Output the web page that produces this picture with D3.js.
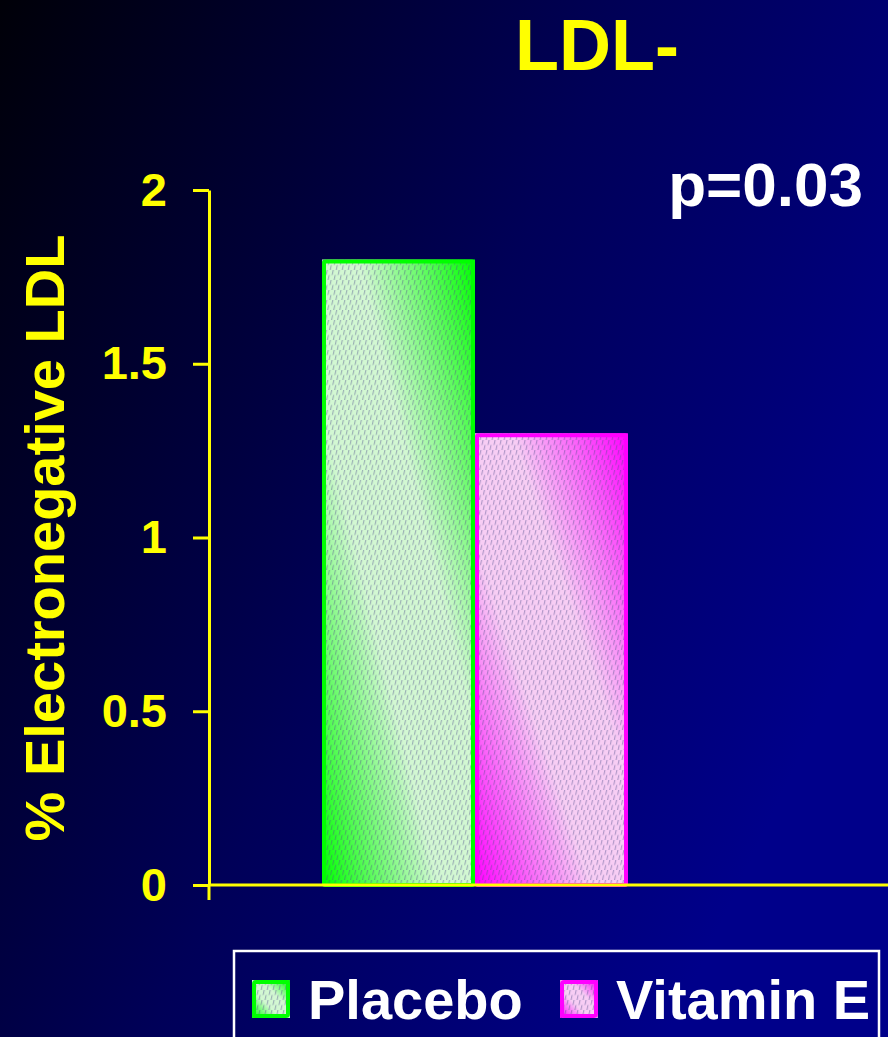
<!DOCTYPE html>
<html>
<head>
<meta charset="utf-8">
<script src="https://cdn.jsdelivr.net/npm/d3@7"></script>
<style>
  html, body { margin: 0; padding: 0; background: #000; }
  svg { display: block; }
  text { font-family: "Liberation Sans", Arial, sans-serif; font-weight: bold; }
</style>
</head>
<body>
<svg id="chart" width="888" height="1037"></svg>
<script>
// Chart data
const seriesNames = ["Placebo", "Vitamin E"];
const seriesValues = [1.8, 1.3];
const seriesColors = ["#00ff00", "#ff00ff"];
const seriesLight = ["#d2f7d2", "#f7cdf4"];
const tickValues = [0, 0.5, 1, 1.5, 2];
const tickLabels = ["0", "0.5", "1", "1.5", "2"];
const titleText = "LDL-";
const yAxisTitle = "% Electronegative LDL";
const pValueText = "p=0.03";

const W = 888, H = 1037;
const svg = d3.select("#chart");
const defs = svg.append("defs");

// Background: dark to navy blue sweep
const bg = defs.append("linearGradient").attr("id", "bg")
  .attr("x1", "0%").attr("y1", "0%").attr("x2", "100%").attr("y2", "55%");
bg.append("stop").attr("offset", "0%").attr("stop-color", "#000008");
bg.append("stop").attr("offset", "55%").attr("stop-color", "#000058");
bg.append("stop").attr("offset", "100%").attr("stop-color", "#00008a");
svg.append("rect").attr("width", W).attr("height", H).attr("fill", "url(#bg)");

// Diagonal shaded fill for each series: saturated corners, pale centre
seriesNames.forEach((name, i) => {
  const g = defs.append("linearGradient").attr("id", "fill" + i)
    .attr("x1", "1").attr("y1", "0").attr("x2", "0").attr("y2", "1");
  g.append("stop").attr("offset", "0%").attr("stop-color", seriesColors[i]);
  g.append("stop").attr("offset", "38%").attr("stop-color", seriesLight[i]);
  g.append("stop").attr("offset", "62%").attr("stop-color", seriesLight[i]);
  g.append("stop").attr("offset", "100%").attr("stop-color", seriesColors[i]);
});

// Staggered dash texture laid over the fills
const hatch = defs.append("pattern").attr("id", "hatch")
  .attr("patternUnits", "userSpaceOnUse")
  .attr("width", 6).attr("height", 10)
  .attr("patternTransform", "skewX(-12)");
hatch.append("rect").attr("x", 0).attr("y", 0).attr("width", 1.2).attr("height", 5)
  .attr("fill", "rgba(80,80,140,0.42)");
hatch.append("rect").attr("x", 3).attr("y", 5).attr("width", 1.2).attr("height", 5)
  .attr("fill", "rgba(80,80,140,0.42)");

// Scales
const y = d3.scaleLinear().domain([0, 2]).range([885, 190]);
const x = d3.scaleBand().domain(seriesNames).range([322, 628]).paddingInner(0);

// Bars
const bars = svg.append("g");
seriesNames.forEach((name, i) => {
  const bx = x(name), bw = x.bandwidth();
  const top = y(seriesValues[i]), h = y(0) - y(seriesValues[i]);
  bars.append("rect")
    .attr("x", bx).attr("y", top).attr("width", bw).attr("height", h)
    .attr("fill", `url(#fill${i})`);
  bars.append("rect")
    .attr("x", bx).attr("y", top).attr("width", bw).attr("height", h)
    .attr("fill", "url(#hatch)");
  bars.append("rect")
    .attr("x", bx + 2).attr("y", top + 2).attr("width", bw - 4).attr("height", h - 2)
    .attr("fill", "none").attr("stroke", seriesColors[i]).attr("stroke-width", 4)
    .attr("rx", 1);
});

// Y axis
const yAxis = d3.axisLeft(y)
  .tickValues(tickValues)
  .tickFormat((d, i) => tickLabels[i])
  .tickSize(16).tickSizeOuter(0).tickPadding(26);
const ga = svg.append("g").attr("transform", "translate(209,0)").call(yAxis);
ga.select(".domain").attr("stroke", "#ffff00").attr("stroke-width", 3);
ga.selectAll(".tick line").attr("stroke", "#ffff00").attr("stroke-width", 3);
ga.selectAll(".tick text").attr("fill", "#ffff00")
  .style("font-size", "47px").style("font-weight", "bold")
  .style("font-family", '"Liberation Sans", Arial, sans-serif');

// Category axis baseline with its tick
svg.append("line").attr("x1", 209).attr("x2", W).attr("y1", y(0)).attr("y2", y(0))
  .attr("stroke", "#ffff00").attr("stroke-width", 3);
svg.append("line").attr("x1", 209).attr("x2", 209).attr("y1", y(0)).attr("y2", y(0) + 15)
  .attr("stroke", "#ffff00").attr("stroke-width", 3);

// Titles
svg.append("text").attr("x", 597).attr("y", 70).attr("text-anchor", "middle")
  .attr("fill", "#ffff00").style("font-size", "72px").text(titleText);

svg.append("text").attr("transform", "translate(64,538) rotate(-90)")
  .attr("text-anchor", "middle").attr("fill", "#ffff00")
  .style("font-size", "56px").text(yAxisTitle);

svg.append("text").attr("x", 863).attr("y", 206).attr("text-anchor", "end")
  .attr("fill", "#ffffff").style("font-size", "62px").text(pValueText);

// Legend
const lg = svg.append("g");
lg.append("rect").attr("x", 234).attr("y", 951).attr("width", 645).attr("height", 100)
  .attr("fill", "none").attr("stroke", "#ffffff").attr("stroke-width", 2.5);
const legendX = [252, 560];
seriesNames.forEach((name, i) => {
  const sx = legendX[i];
  lg.append("rect").attr("x", sx).attr("y", 980).attr("width", 38).attr("height", 38)
    .attr("fill", `url(#fill${i})`);
  lg.append("rect").attr("x", sx).attr("y", 980).attr("width", 38).attr("height", 38)
    .attr("fill", "url(#hatch)");
  lg.append("rect").attr("x", sx + 2).attr("y", 982).attr("width", 34).attr("height", 34)
    .attr("fill", "none").attr("stroke", seriesColors[i]).attr("stroke-width", 4).attr("rx", 2);
  lg.append("text").attr("x", sx + 56).attr("y", 1019).attr("fill", "#ffffff")
    .style("font-size", "56px").text(name);
});
</script>
</body>
</html>
